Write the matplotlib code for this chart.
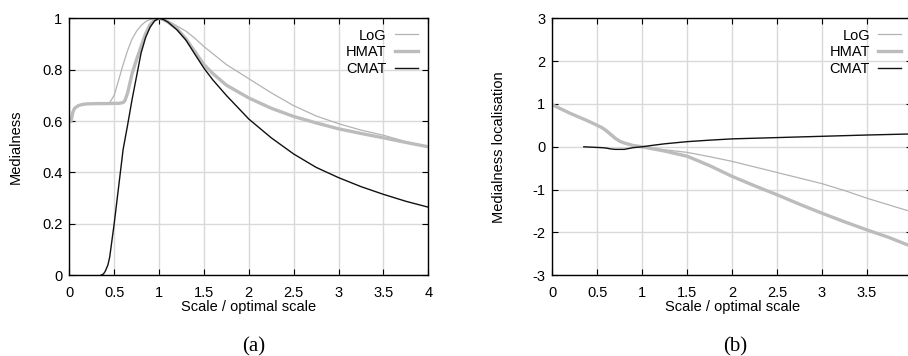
import matplotlib
matplotlib.use('Agg')
import matplotlib.pyplot as plt
from matplotlib.ticker import FormatStrFormatter, MultipleLocator

plt.rcParams['font.family'] = ['Liberation Sans', 'DejaVu Sans']
plt.rcParams['axes.unicode_minus'] = False

# (a) medialness vs scale / optimal scale
log_a_x = [0.03, 0.05, 0.1, 0.15, 0.2, 0.3, 0.4, 0.45, 0.5, 0.55, 0.6, 0.65, 0.7, 0.75, 0.8, 0.85,
           0.9, 0.95, 1.0, 1.05, 1.1, 1.2, 1.3, 1.4, 1.5, 1.6, 1.75, 2.0, 2.25, 2.5, 2.75, 3.0,
           3.25, 3.5, 3.75, 4.0]
log_a_y = [0.63, 0.65, 0.662, 0.665, 0.667, 0.668, 0.669, 0.672, 0.70, 0.76, 0.82, 0.875, 0.92,
           0.95, 0.972, 0.987, 0.995, 0.999, 1.0, 0.998, 0.99, 0.97, 0.95, 0.922, 0.89, 0.862,
           0.82, 0.765, 0.71, 0.66, 0.62, 0.59, 0.565, 0.545, 0.52, 0.50]

hmat_a_x = [0.02, 0.04, 0.06, 0.1, 0.15, 0.2, 0.3, 0.4, 0.5, 0.55, 0.6, 0.62, 0.65, 0.7, 0.75,
            0.8, 0.85, 0.9, 0.95, 1.0, 1.05, 1.1, 1.2, 1.3, 1.4, 1.5, 1.6, 1.75, 2.0, 2.25, 2.5,
            2.75, 3.0, 3.25, 3.5, 3.75, 4.0]
hmat_a_y = [0.60, 0.635, 0.65, 0.66, 0.665, 0.667, 0.668, 0.668, 0.669, 0.669, 0.672, 0.68, 0.71,
            0.785, 0.84, 0.89, 0.94, 0.975, 0.994, 1.0, 0.995, 0.985, 0.96, 0.92, 0.87, 0.82,
            0.785, 0.74, 0.69, 0.65, 0.618, 0.593, 0.57, 0.552, 0.535, 0.517, 0.50]

cmat_a_x = [0.35, 0.38, 0.4, 0.43, 0.45, 0.5, 0.55, 0.6, 0.65, 0.7, 0.75, 0.8, 0.85, 0.9, 0.95,
            1.0, 1.05, 1.1, 1.2, 1.3, 1.4, 1.5, 1.6, 1.75, 2.0, 2.25, 2.5, 2.75, 3.0, 3.25, 3.5,
            3.75, 4.0]
cmat_a_y = [0.0, 0.005, 0.015, 0.04, 0.07, 0.2, 0.345, 0.49, 0.585, 0.685, 0.775, 0.865, 0.925,
            0.965, 0.99, 1.0, 0.995, 0.985, 0.955, 0.915, 0.86, 0.806, 0.76, 0.70, 0.608, 0.535,
            0.472, 0.42, 0.38, 0.345, 0.315, 0.288, 0.265]

# (b) medialness localisation
log_b_x = [0.0, 0.1, 0.2, 0.3, 0.4, 0.5, 0.55, 0.6, 0.65, 0.7, 0.75, 0.8, 0.9, 1.0, 1.1, 1.25,
           1.5, 1.75, 2.0, 2.25, 2.5, 2.75, 3.0, 3.25, 3.5, 3.75, 4.0]
log_b_y = [0.98, 0.88, 0.78, 0.69, 0.6, 0.5, 0.43, 0.35, 0.26, 0.18, 0.12, 0.08, 0.03, 0.0,
           -0.03, -0.07, -0.13, -0.23, -0.34, -0.47, -0.60, -0.73, -0.86, -1.02, -1.2, -1.36,
           -1.52]

hmat_b_x = [0.0, 0.1, 0.2, 0.3, 0.4, 0.5, 0.55, 0.6, 0.65, 0.7, 0.75, 0.8, 0.9, 1.0, 1.1, 1.25,
            1.5, 1.75, 2.0, 2.25, 2.5, 2.75, 3.0, 3.25, 3.5, 3.75, 4.0]
hmat_b_y = [0.98, 0.88, 0.78, 0.69, 0.6, 0.5, 0.45, 0.38, 0.29, 0.2, 0.13, 0.09, 0.03, 0.0,
            -0.04, -0.1, -0.22, -0.44, -0.69, -0.91, -1.12, -1.34, -1.55, -1.75, -1.94, -2.12,
            -2.33]

cmat_b_x = [0.35, 0.45, 0.55, 0.6, 0.65, 0.7, 0.8, 0.85, 0.9, 1.0, 1.1, 1.25, 1.5, 1.75, 2.0,
            2.5, 3.0, 3.5, 4.0]
cmat_b_y = [0.0, -0.01, -0.02, -0.03, -0.05, -0.06, -0.06, -0.04, -0.02, 0.0, 0.03, 0.07, 0.12,
            0.155, 0.185, 0.215, 0.245, 0.275, 0.30]

x_ticks = [0, 0.5, 1, 1.5, 2, 2.5, 3, 3.5, 4]

fig = plt.figure(figsize=(9.08, 3.56), dpi=100)
ax1 = fig.add_axes([0.0763, 0.2267, 0.3954, 0.7219])
ax2 = fig.add_axes([0.6083, 0.2267, 0.3959, 0.7219])


def style(ax, ylim, ystep, ylabel):
    ax.set_xlim(0, 4)
    ax.set_ylim(*ylim)
    ax.set_xticks(x_ticks)
    ax.yaxis.set_major_locator(MultipleLocator(ystep))
    ax.xaxis.set_major_formatter(FormatStrFormatter('%g'))
    ax.yaxis.set_major_formatter(FormatStrFormatter('%g'))
    ax.grid(True, color='#d9d9d9', linewidth=1.0)
    ax.set_axisbelow(True)
    ax.tick_params(direction='in', length=4, width=0.8, top=True, right=True, labelsize=10.5)
    ax.tick_params(axis='x', pad=7.5)
    ax.tick_params(axis='y', pad=5)
    for s in ax.spines.values():
        s.set_linewidth(1.0)
    ax.set_xlabel('Scale / optimal scale', fontsize=10.5)
    ax.set_ylabel(ylabel, fontsize=10.5)
    ax.xaxis.set_label_coords(0.5, -0.095)
    ax.yaxis.set_label_coords(-0.13, 0.5)
    ax.legend(loc='upper right', bbox_to_anchor=(0.971, 0.96), markerfirst=False,
              frameon=False, fontsize=10.5, handlelength=1.6, handletextpad=0.55,
              labelspacing=0.2, borderpad=0, borderaxespad=0)


ax1.plot(log_a_x, log_a_y, color='#b3b3b3', linewidth=0.9, label='LoG')
ax1.plot(hmat_a_x, hmat_a_y, color='#bcbcbc', linewidth=2.4, label='HMAT')
ax1.plot(cmat_a_x, cmat_a_y, color='#111111', linewidth=1.0, label='CMAT')
style(ax1, (0, 1), 0.2, 'Medialness')

ax2.plot(log_b_x, log_b_y, color='#b3b3b3', linewidth=0.9, label='LoG')
ax2.plot(hmat_b_x, hmat_b_y, color='#bcbcbc', linewidth=2.4, label='HMAT')
ax2.plot(cmat_b_x, cmat_b_y, color='#111111', linewidth=1.0, label='CMAT')
style(ax2, (-3, 3), 1, 'Medialness localisation')

fig.text(0.2794, 0.026, '(a)', ha='center', va='center', fontsize=15,
         family=['Liberation Serif', 'DejaVu Serif'])
fig.text(0.810, 0.026, '(b)', ha='center', va='center', fontsize=15,
         family=['Liberation Serif', 'DejaVu Serif'])

fig.savefig('out.png', dpi=100)
